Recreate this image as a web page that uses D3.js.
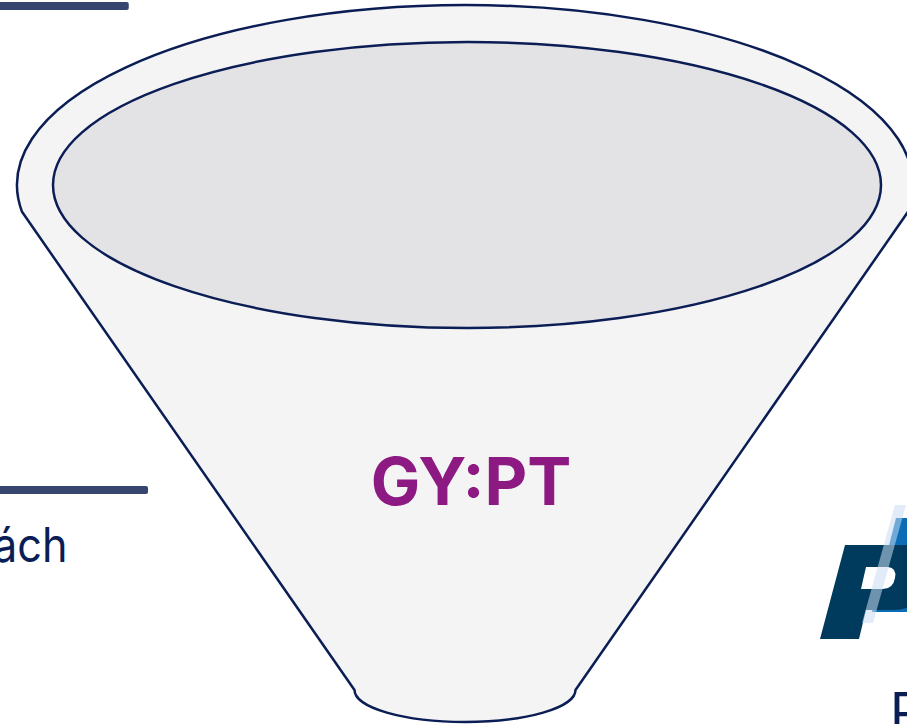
<!DOCTYPE html>
<html>
<head>
<meta charset="utf-8">
<script src="https://cdn.jsdelivr.net/npm/d3@7"></script>
<style>
  html, body { margin: 0; padding: 0; background: #ffffff; overflow: hidden; }
  svg { display: block; }
</style>
</head>
<body>
<svg id="chart" width="907" height="724"></svg>
<script>
// funnel stage labels
var stageLabels = ["GY:PT"]
// side text fragments (cropped)
var sideLabels = ["ách"]
var cornerLabels = ["P"]
// left rule bars (relative length)
var ruleBars = [0.87, 1.0]

var width = 907, height = 724
var svg = d3.select('#chart')

var navy = '#0b1d55'

// unit scales for funnel geometry
var x = d3.scaleLinear().domain([-1, 1]).range([17, 913])
var y = d3.scaleLinear().domain([0, 1]).range([5, 722])

var cx = x(0), cy = 185
var rxOuter = 448, ryOuter = 180
var rxInner = 414, ryInner = 143

// left bars
var barX = d3.scaleLinear().domain([0, 1]).range([0, 148])
svg.selectAll('rect.rule')
    .data(ruleBars)
    .join('rect')
    .attr('class', 'rule')
    .attr('x', -6)
    .attr('y', function(d, i) { return i == 0 ? 2 : 486 })
    .attr('width', function(d) { return barX(d) + 6 })
    .attr('height', 8)
    .attr('rx', 2)
    .attr('fill', '#37466e')

// side text
svg.selectAll('text.side')
    .data(sideLabels)
    .join('text')
    .attr('class', 'side')
    .attr('transform', 'translate(-7,562) scale(0.9,1)')
    .attr('font-family', 'Inter, sans-serif')
    .attr('font-size', 48)
    .attr('fill', navy)
    .text(function(d) { return d })

// funnel body
var yl = cy + ryOuter * Math.sqrt(1 - Math.pow((22 - cx) / rxOuter, 2))
var botY = 690, botHalf = 110.5
var body = 'M' + 22 + ',' + yl +
    ' A' + rxOuter + ',' + ryOuter + ' 0 1,1 ' + (cx + (cx - 22)) + ',' + yl +
    ' L' + (cx + botHalf) + ',' + botY +
    ' A' + botHalf + ',' + (y(1) - botY) + ' 0 0,1 ' + (cx - botHalf) + ',' + botY + ' Z'

svg.append('path')
    .attr('d', body)
    .attr('fill', '#f4f4f4')
    .attr('stroke', navy)
    .attr('stroke-width', 2.5)
    .attr('stroke-linejoin', 'round')

svg.append('ellipse')
    .attr('cx', cx + 2)
    .attr('cy', cy)
    .attr('rx', rxInner)
    .attr('ry', ryInner)
    .attr('fill', '#e3e3e6')
    .attr('stroke', navy)
    .attr('stroke-width', 2.5)

svg.selectAll('text.stage')
    .data(stageLabels)
    .join('text')
    .attr('class', 'stage')
    .attr('x', cx + 6)
    .attr('y', 505)
    .attr('text-anchor', 'middle')
    .attr('font-family', 'Inter, sans-serif')
    .attr('font-weight', 700)
    .attr('font-size', 66)
    .attr('fill', '#8d1a82')
    .text(function(d) { return d })

// logo (cropped at right edge)
var logo = svg.append('g')
logo.append('path')
    .attr('d', 'M896,518 L920,518 L920,612 L872,612 Z')
    .attr('fill', '#0a6db5')
logo.append('path')
    .attr('d', 'M845,545 L910,545 Q935,546 930,578 Q925,608 895,610 L866,610 L859,639 L820,639 Z')
    .attr('fill', '#003a5c')
logo.append('path')
    .attr('d', 'M866,567 L888,567 Q897,568 895,578 Q893,589 883,589 L861,589 Z')
    .attr('fill', '#ffffff')
logo.append('path')
    .attr('d', 'M895,505 L906,505 L873,623 L862,623 Z')
    .attr('fill', '#c9dcf2')
    .attr('opacity', 0.55)

svg.selectAll('text.corner')
    .data(cornerLabels)
    .join('text')
    .attr('class', 'corner')
    .attr('x', 890)
    .attr('y', 730)
    .attr('font-family', 'Inter, sans-serif')
    .attr('font-size', 52)
    .attr('fill', navy)
    .text(function(d) { return d })
</script>
</body>
</html>
